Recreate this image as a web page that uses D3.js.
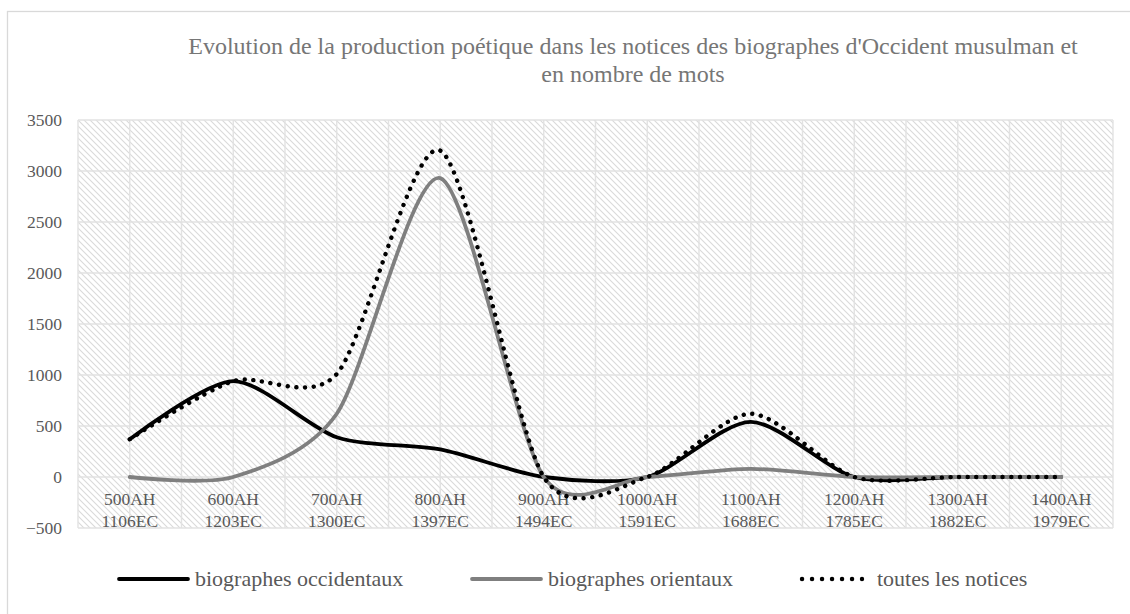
<!DOCTYPE html>
<html>
<head>
<meta charset="utf-8">
<script src="https://cdn.jsdelivr.net/npm/d3@7"></script>
<style>
  body { margin: 0; background: #fff; }
</style>
</head>
<body>
<div id="chart"></div>
<script>
// Settings
const SIZE = [1130, 614]
const MARGIN = {top: 120, right: 17, bottom: 86, left: 78}
const FONT = "'Liberation Serif', 'Times New Roman', serif"

// Data
const periodsAH = ["500AH", "600AH", "700AH", "800AH", "900AH", "1000AH", "1100AH", "1200AH", "1300AH", "1400AH"]
const periodsEC = ["1106EC", "1203EC", "1300EC", "1397EC", "1494EC", "1591EC", "1688EC", "1785EC", "1882EC", "1979EC"]
const occidentaux = [370, 940, 390, 270, 0, 0, 540, 0, 0, 0]
const orientaux = [0, 0, 620, 2930, 0, 0, 80, 0, 0, 0]
const toutes = [370, 940, 1010, 3200, 0, 0, 620, 0, 0, 0]
const yTicks = [-500, 0, 500, 1000, 1500, 2000, 2500, 3000, 3500]
const titleLines = [
  "Evolution de la production poétique dans les notices des biographes d'Occident musulman et",
  "en nombre de mots"
]

const series = [
  {name: "biographes occidentaux", values: occidentaux, color: "#000000", dash: null},
  {name: "biographes orientaux", values: orientaux, color: "#7f7f7f", dash: null},
  {name: "toutes les notices", values: toutes, color: "#000000", dash: "0.1,8.6"}
]

const svg = d3.select("#chart").append("svg")
  .attr("width", SIZE[0])
  .attr("height", SIZE[1])
  .style("font-family", FONT)

// hatch fill of the plot area
const pattern = svg.append("defs").append("pattern")
  .attr("id", "hatch")
  .attr("patternUnits", "userSpaceOnUse")
  .attr("width", 6)
  .attr("height", 6)
pattern.append("rect").attr("width", 6).attr("height", 6).attr("fill", "#ffffff")
pattern.append("path")
  .attr("d", "M0,0L6,6M-3,3L3,9M3,-3L9,3")
  .attr("stroke", "#dadada")
  .attr("stroke-width", 1.1)

// chart area border
svg.append("rect")
  .attr("x", 7.5)
  .attr("y", 11.5)
  .attr("width", SIZE[0])
  .attr("height", SIZE[1])
  .attr("fill", "none")
  .attr("stroke", "#d9d9d9")
  .attr("stroke-width", 1.3)

const x0 = MARGIN.left
const x1 = SIZE[0] - MARGIN.right
const scaleX = d3.scaleBand()
  .domain(periodsAH)
  .range([x0, x1])
  .padding(0)

const scaleY = d3.scaleLinear()
  .domain([-500, 3500])
  .range([SIZE[1] - MARGIN.bottom, MARGIN.top])

const cx = d => scaleX(d) + scaleX.bandwidth() / 2

svg.append("rect")
  .attr("x", x0)
  .attr("y", scaleY(3500))
  .attr("width", x1 - x0)
  .attr("height", scaleY(-500) - scaleY(3500))
  .attr("fill", "url(#hatch)")

// gridlines: horizontal every tick, vertical at band edges and centres
const grid = svg.append("g")
  .attr("stroke", "#e2e2e2")
  .attr("stroke-width", 1.4)
grid.selectAll("line.h")
  .data(yTicks)
  .join("line")
    .attr("class", "h")
    .attr("x1", x0)
    .attr("x2", x1)
    .attr("y1", d => scaleY(d))
    .attr("y2", d => scaleY(d))
const vPos = periodsAH.flatMap(p => [scaleX(p), cx(p)]).concat([x1])
grid.selectAll("line.v")
  .data(vPos)
  .join("line")
    .attr("class", "v")
    .attr("x1", d => d)
    .attr("x2", d => d)
    .attr("y1", scaleY(3500))
    .attr("y2", scaleY(-500))

// y axis labels
svg.append("g")
  .attr("transform", `translate(${x0 - 16},0)`)
  .call(d3.axisLeft(scaleY).tickValues(yTicks).tickFormat(d3.format("d")).tickSize(0).tickPadding(0))
  .attr("font-family", null)
  .attr("font-size", null)
  .call(g => g.select(".domain").remove())
  .call(g => g.selectAll("text")
    .style("font-family", FONT)
    .style("font-size", "17.5px")
    .attr("fill", "#595959"))

// x axis labels (two lines), sitting under the zero line
const xLabels = svg.append("g")
  .style("font-size", "17.5px")
  .attr("fill", "#595959")
  .attr("text-anchor", "middle")
xLabels.selectAll("text")
  .data(periodsAH)
  .join("text")
    .attr("x", d => cx(d))
    .attr("y", scaleY(0) + 28)
    .call(t => t.append("tspan").attr("x", d => cx(d)).text(d => d))
    .call(t => t.append("tspan").attr("x", d => cx(d)).attr("dy", 22).text((d, i) => periodsEC[i]))

// lines (Excel-like smoothing)
const line = d3.line()
  .x((d, i) => cx(periodsAH[i]))
  .y(d => scaleY(d))
  .curve(d3.curveCardinal.tension(0.2))

svg.append("g")
    .attr("fill", "none")
    .attr("stroke-linecap", "round")
    .attr("stroke-linejoin", "round")
  .selectAll("path")
  .data(series)
  .join("path")
    .attr("d", d => line(d.values))
    .attr("stroke", d => d.color)
    .attr("stroke-width", d => d.dash ? 4.4 : 3.8)
    .attr("stroke-dasharray", d => d.dash)

// title
svg.append("g")
  .style("font-size", "24px")
  .attr("fill", "#767676")
  .attr("text-anchor", "middle")
  .selectAll("text")
  .data(titleLines)
  .join("text")
    .attr("x", 633)
    .attr("y", (d, i) => 54 + i * 28)
    .text(d => d)

// legend
const legendX = [119, 472, 800]
const legend = svg.append("g")
  .selectAll("g")
  .data(series)
  .join("g")
    .attr("transform", (d, i) => `translate(${legendX[i]},579)`)
legend.append("line")
  .attr("x1", d => d.dash ? 2 : 0)
  .attr("x2", d => d.dash ? 62 : 69)
  .attr("stroke", d => d.color)
  .attr("stroke-width", d => d.dash ? 4.4 : 3.8)
  .attr("stroke-linecap", "round")
  .attr("stroke-dasharray", d => d.dash ? "0.1,9.9" : null)
legend.append("text")
  .attr("x", d => d.dash ? 77 : 76)
  .attr("y", 7)
  .style("font-size", "22px")
  .attr("fill", "#595959")
  .text(d => d.name)
</script>
</body>
</html>
